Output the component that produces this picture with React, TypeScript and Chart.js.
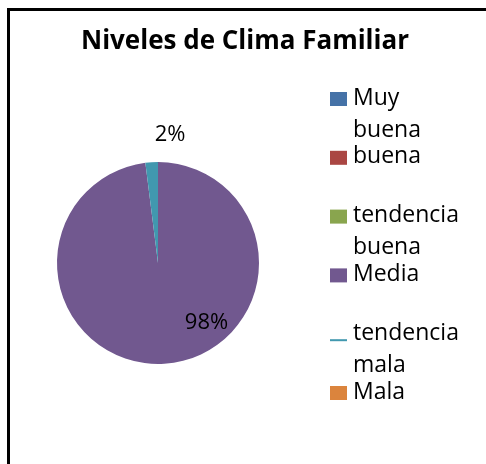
import React, { useEffect, useRef } from "react";
import { Chart, registerables } from "chart.js";

Chart.register(...registerables);

const chartTitle = "Niveles de Clima Familiar";
const categories = ["Muy buena", "buena", "tendencia buena", "Media", "tendencia mala", "Mala"];
const values = [0, 0, 0, 98, 2, 0];
const colors = ["#4572A7", "#AA4643", "#89A54E", "#71588F", "#4198AF", "#DB843D"];

const FONT = "'Open Sans', 'Noto Sans', sans-serif";

const framePlugin = {
  id: "frame",
  beforeDraw(chart: any) {
    const ctx = chart.ctx;
    ctx.save();
    ctx.fillStyle = "#ffffff";
    ctx.fillRect(0, 0, chart.width, chart.height);
    ctx.strokeStyle = "#000000";
    ctx.lineWidth = 3;
    ctx.strokeRect(8.5, 9.5, chart.width + 20, chart.height + 20);
    ctx.restore();
  },
};

const titlePlugin = {
  id: "customTitle",
  afterDraw(chart: any) {
    const ctx = chart.ctx;
    ctx.save();
    ctx.fillStyle = "#000000";
    ctx.font = `bold 26px ${FONT}`;
    ctx.textAlign = "center";
    ctx.textBaseline = "alphabetic";
    ctx.fillText(chartTitle, 245, 49);
    ctx.restore();
  },
};

const legendPlugin = {
  id: "customLegend",
  afterDraw(chart: any) {
    const ctx = chart.ctx;
    ctx.save();
    ctx.font = `23px ${FONT}`;
    ctx.textBaseline = "middle";
    ctx.textAlign = "left";
    const x0 = 330;
    const top = 98;
    const step = 58.8;
    const lineH = 32;
    categories.forEach((cat, i) => {
      const y = top + i * step;
      ctx.fillStyle = colors[i];
      if (values[i] > 0 && values[i] < 5) {
        ctx.fillRect(x0, y + 6, 17, 2);
      } else {
        ctx.fillRect(x0, y - 6, 17, 14);
      }
      ctx.fillStyle = "#000000";
      cat.split(" ").forEach((w, j) => {
        ctx.fillText(w, 353, y + j * lineH);
      });
    });
    ctx.restore();
  },
};

const labelPlugin = {
  id: "pieLabels",
  afterDatasetsDraw(chart: any) {
    const ctx = chart.ctx;
    const meta = chart.getDatasetMeta(0);
    const total = values.reduce((a, b) => a + b, 0);
    ctx.save();
    ctx.font = `22px ${FONT}`;
    ctx.fillStyle = "#000000";
    ctx.textAlign = "center";
    ctx.textBaseline = "middle";
    meta.data.forEach((arc: any, i: number) => {
      if (values[i] <= 0) return;
      const pct = Math.round((values[i] / total) * 100) + "%";
      const { x, y, outerRadius } = arc.getProps(["x", "y", "outerRadius"], true);
      let lx: number, ly: number;
      if (values[i] / total < 0.1) {
        lx = x + outerRadius * 0.12;
        ly = y - outerRadius * 1.27;
      } else {
        lx = x + outerRadius * 0.48;
        ly = y + outerRadius * 0.59;
      }
      ctx.fillText(pct, lx, ly);
    });
    ctx.restore();
  },
};

export default function App() {
  const ref = useRef<HTMLCanvasElement | null>(null);
  useEffect(() => {
    document.body.style.margin = "0";
    document.body.style.overflow = "hidden";
    if (!ref.current) return;
    const chart = new Chart(ref.current, {
      type: "pie",
      data: {
        labels: categories,
        datasets: [
          {
            data: values,
            backgroundColor: colors,
            borderWidth: 0,
          },
        ],
      },
      options: {
        animation: false,
        responsive: false,
        devicePixelRatio: 1,
        layout: { padding: { left: 57, right: 227, top: 162, bottom: 100 } },
        plugins: {
          legend: { display: false },
          title: { display: false },
          tooltip: { enabled: false },
        },
      },
      plugins: [framePlugin, titlePlugin, legendPlugin, labelPlugin],
    });
    return () => chart.destroy();
  }, []);
  return (
    <div style={{ position: "absolute", left: 0, top: 0, width: 486, height: 464 }}>
      <canvas ref={ref} width={486} height={464} style={{ display: "block" }} />
    </div>
  );
}
